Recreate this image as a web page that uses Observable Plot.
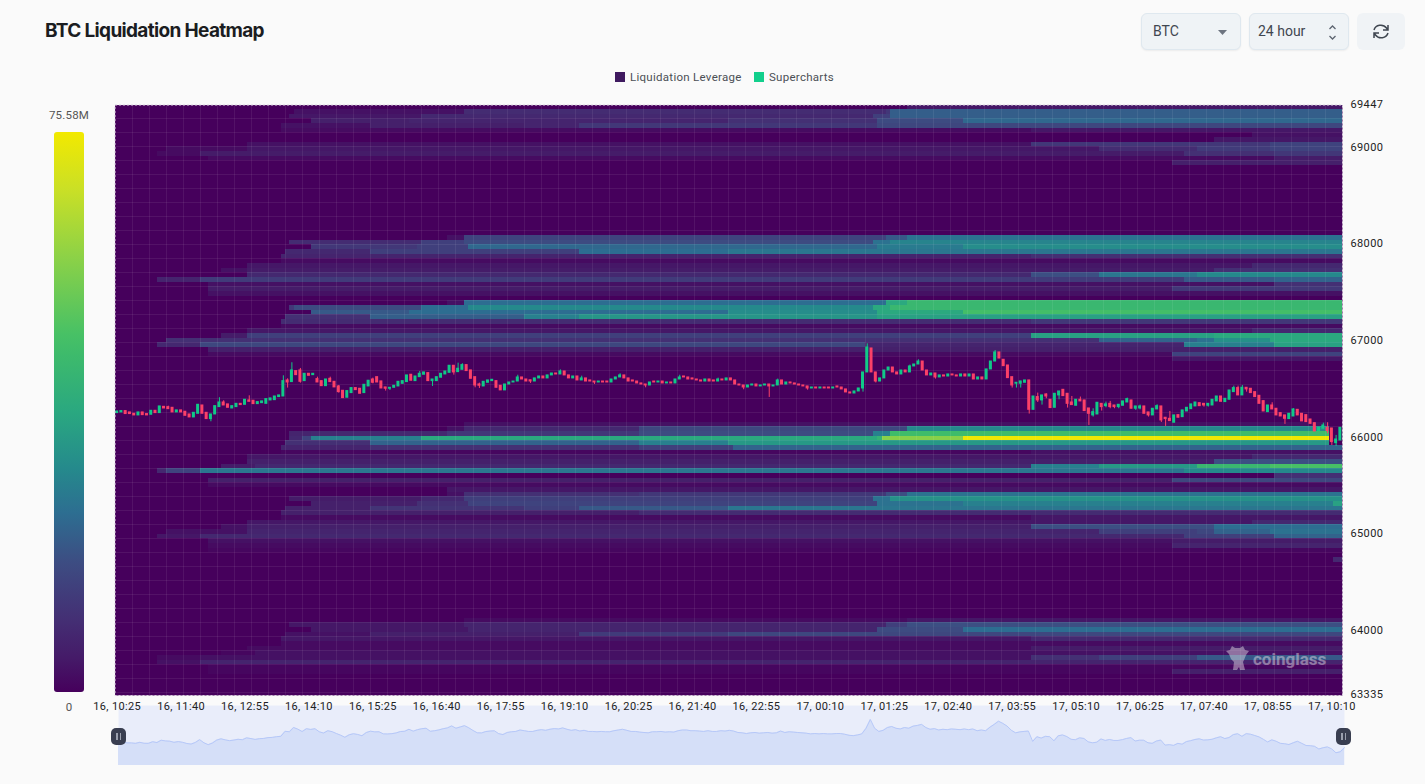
<!DOCTYPE html>
<html>
<head>
<meta charset="utf-8">
<script src="https://cdn.jsdelivr.net/npm/d3@7"></script>
<script src="https://cdn.jsdelivr.net/npm/@observablehq/plot@0.6"></script>
<style>
html,body{margin:0;padding:0;background:#fafafa;overflow:hidden;width:1425px;height:784px;font-family:Roboto,sans-serif}
#wrap{position:relative;width:1425px;height:784px;overflow:hidden}
.abs{position:absolute}
h1{position:absolute;left:45px;top:18px;margin:0;font:700 19px/26px Inter,sans-serif;letter-spacing:-.66px;color:#1b1d21}
.sel{position:absolute;top:13px;height:35px;width:98px;background:#eff3f6;border:1px solid #dfe8ef;border-radius:6px;box-shadow:0 1px 2px rgba(0,0,0,.06);font:14px/35px Roboto,sans-serif;color:#3f4650}
.sel span{position:absolute;left:11px}
.lg{position:absolute;top:71px;font:11.5px/13px Roboto,sans-serif;letter-spacing:.28px;color:#4b4f55}
.sw{position:absolute;top:72px;width:10px;height:10px}
#chart,#nav{position:absolute;left:0}
#chart{top:0;z-index:2}
#chart svg text{letter-spacing:.36px}
#nav{top:705px;z-index:1}
.h{position:absolute;top:728px;width:15px;height:17px;background:#393e50;border-radius:5px;z-index:3}
.h:before,.h:after{content:"";position:absolute;top:5px;height:7px;width:1.5px;background:#9ba0ae}
.h:before{left:5px}.h:after{left:8.5px}
</style>
</head>
<body>
<div id="wrap">
<h1>BTC Liquidation Heatmap</h1>
<div class="sel" style="left:1141px"><span>BTC</span>
<svg class="abs" style="left:75px;top:15px" width="12" height="7"><path d="M1 1h9l-4.500 5z" fill="#6d7480"/></svg></div>
<div class="sel" style="left:1249px"><span style="left:8px">24 hour</span>
<svg class="abs" style="left:77px;top:10px" width="12" height="17" fill="none" stroke="#5d6470" stroke-width="1.300"><path d="M2.500 5l3-3 3 3M2.500 12l3 3 3-3"/></svg></div>
<div class="abs" style="left:1357px;top:13px;width:48px;height:37px;background:#f0f3f6;border-radius:6px">
<svg class="abs" style="left:15px;top:10px" width="18" height="17" fill="none" stroke="#3f4650" stroke-width="1.500"><path d="M2 7a7 6.500 0 0 1 12.500-2L16 7M16 2v5h-5M16 10a7 6.500 0 0 1-12.500 2L2 10M2 15v-5h5"/></svg></div>
<div class="sw" style="left:615px;background:#3f1a5f"></div><div class="lg" style="left:630px">Liquidation Leverage</div>
<div class="sw" style="left:754px;background:#12cf8c"></div><div class="lg" style="left:769px">Supercharts</div>
<div class="abs" style="left:39px;top:108px;width:60px;text-align:center;font:11.500px/14px Roboto,sans-serif;letter-spacing:.2px;color:#555">75.58M</div>
<div class="abs" id="bar" style="left:54px;top:132px;width:30px;height:560px;border-radius:3px"></div>
<div class="abs" style="left:39px;top:700px;width:60px;text-align:center;font:11.500px/14px Roboto,sans-serif;color:#555">0</div>
<div id="nav"></div>
<div id="chart"></div>
<div class="h" style="left:111px"></div><div class="h" style="left:1336px"></div>
<div class="abs" style="left:1225px;top:645px;z-index:4;opacity:.45;width:102px;height:28px">
<svg class="abs" style="left:0;top:0" width="28" height="28" fill="#e9e4ea"><path d="M1 6l4-1 2-4 3 2h5l3-2 2 4 4 1-3 4-2 5-1 2 2 8h-5l-1-3-2 3H8l1-8-3-3-2-5z"/></svg>
<div class="abs" style="left:28px;top:3px;font:700 17px/22px Roboto,sans-serif;color:#e9e4ea">coinglass</div>
</div>
</div>
<script>
// ---- axis labels ----
const xTickLabels = ["16, 10:25","16, 11:40","16, 12:55","16, 14:10","16, 15:25","16, 16:40","16, 17:55","16, 19:10","16, 20:25","16, 21:40","16, 22:55","17, 00:10","17, 01:25","17, 02:40","17, 03:55","17, 05:10","17, 06:25","17, 07:40","17, 08:55","17, 10:10"];
const yTicks = [69447,69000,68000,67000,66000,65000,64000,63335];
const priceTop = 69447, priceBottom = 63335, rowStep = 48.3, columnCount = 288, valueMax = 75.58;

// ---- colour ramp ----
const rampStops  = [0,.06,.13,.23,.32,.4,.5,.6,.64,.78,.9,1];
const rampColors = ["#46005c","#451a68","#442f74","#3d4c82","#2d6e91","#258a8c","#2aa880","#3dba6c","#48c165","#8ed246","#cbe025","#f2e900"];

// ---- heatmap: row number from the top, then [start column, value in millions] steps ----
const heatRows = [0,1,2,3,4,5,6,7,8,9,10,11,12,28,29,30,31,32,33,34,35,36,37,38,39,40,42,43,44,45,46,47,48,49,50,51,52,53,54,68,69,70,71,72,73,74,75,76,77,78,79,80,81,82,83,84,85,86,87,88,89,90,91,92,93,94,95,97,110,111,112,113,114,115,116,117,118,119,120,121];
const heatSteps = [
[[186,4]],
[[42,3],[82,9],[181,12],[182,21]],
[[41,4],[72,8],[178,14],[182,21]],
[[46,6],[69,7],[144,10],[179,17],[199,23]],
[[39,3],[60,6],[96,7],[109,12],[179,16]],
[[39,2],[215,4]],
[[267,3]],
[[258,4]],
[[31,3],[215,12],[271,15]],
[[12,2],[31,4],[231,9],[254,13],[271,15]],
[[10,2],[20,5],[251,10],[272,12]],
[[22,2],[272,5]],
[[248,6]],
[[78,3],[82,15],[181,20],[186,25]],
[[41,9],[72,14],[82,17],[178,25],[182,29]],
[[46,12],[71,14],[83,23],[179,27],[199,31]],
[[40,8],[60,14],[109,24],[144,26]],
[[39,7],[215,10]],
[[39,2]],
[[31,4],[267,8]],
[[25,3],[31,5],[258,10]],
[[31,8],[215,18],[231,26],[254,30]],
[[10,7],[20,13],[251,20],[272,22]],
[[22,3],[272,10]],
[[22,5],[248,12]],
[[22,3]],
[[78,3],[82,24],[181,38],[186,44]],
[[41,12],[42,17],[72,24],[83,30],[178,38],[182,44]],
[[46,20],[69,24],[144,31],[179,38],[199,47]],
[[40,10],[60,21],[96,28],[109,33],[179,36]],
[[39,9],[215,12]],
[[39,2]],
[[31,4],[267,8]],
[[25,5],[31,14],[215,36],[258,38]],
[[12,10],[231,22],[254,25],[258,32],[271,38]],
[[10,8],[20,16],[176,7],[251,28],[272,36]],
[[22,6]],
[[22,2],[248,15]],
[[248,4]],
[[82,3],[285,0]],
[[78,3],[82,8],[123,16],[186,30],[285,0]],
[[41,7],[46,8],[78,12],[123,17],[178,28],[182,46],[285,0]],
[[41,8],[44,15],[46,28],[72,38],[179,42],[180,58],[199,75],[285,0]],
[[40,10],[60,22],[123,28],[144,34],[285,0]],
[[39,7],[60,10],[123,14],[145,22]],
[[39,1],[215,3]],
[[31,4],[267,8]],
[[31,6],[258,18]],
[[25,5],[33,8],[215,28],[231,34],[254,44],[271,48]],
[[10,8],[12,15],[20,26],[251,30]],
[[272,10]],
[[22,6],[248,16]],
[[22,2]],
[[78,4]],
[[78,3],[82,10],[123,12],[181,18],[186,25]],
[[41,5],[72,8],[82,14],[178,25],[182,32]],
[[46,6],[71,10],[83,15],[179,25],[199,28],[286,36]],
[[40,6],[60,11],[96,14],[109,20],[144,26]],
[[39,6],[123,9]],
[[39,2],[215,4]],
[[31,4],[267,8]],
[[25,3],[31,6],[215,18],[258,24]],
[[12,3],[31,7],[231,14],[254,16],[258,22],[271,25]],
[[10,4],[20,8],[251,14],[272,22]],
[[22,3],[248,5]],
[[22,2],[248,7]],
[[22,1]],
[[286,8]],
[[82,2],[186,4]],
[[41,4],[82,7],[181,14],[186,18]],
[[46,4],[83,7],[179,17],[199,24]],
[[40,3],[60,6],[109,13],[144,16]],
[[39,4],[215,8]],
[[39,2]],
[[31,2],[215,5]],
[[25,1],[33,3]],
[[10,2],[20,3],[215,10],[231,14],[254,20]],
[[10,3],[20,7]],
[[22,1]],
[[22,1],[248,6]]
];

// ---- candles (5-minute) ----
const candleOpen = [66258,66265,66279,66265,66251,66234,66265,66248,66241,66282,66258,66323,66320,66313,66265,66286,66272,66244,66213,66251,66337,66261,66196,66244,66320,66368,66348,66306,66320,66354,66344,66389,66386,66351,66361,66354,66389,66392,66424,66430,66596,66579,66693,66700,66589,66665,66651,66610,66589,66537,66613,66582,66534,66489,66417,66465,66517,66510,66465,66534,66606,66630,66586,66524,66510,66520,66534,66561,66579,66655,66589,66630,66655,66672,66589,66589,66624,66658,66675,66748,66682,66706,66755,66700,66630,66555,66534,66572,66589,66589,66541,
66493,66554,66575,66585,66627,66606,66598,66585,66617,66637,66617,66648,66668,66658,66689,66648,66617,66637,66596,66617,66596,66585,66575,66585,66585,66575,66606,66627,66648,66617,66596,66585,66565,66554,66544,66585,66575,66585,66565,66575,66565,66606,66637,66627,66617,66606,66596,66585,66606,66596,66585,66606,66596,66617,66596,66554,66544,66523,66544,66554,66534,66544,66554,66534,66544,66596,66554,66575,66565,66554,66544,66534,66513,66523,66513,66523,66523,66513,66534,66523,66503,66472,66461,66482,66513,66679,66927,66679,66585,66617,66699,66730,66679,66658,66699,66679,66741,66761,66792,66699,66648,66668,66627,66648,66637,66658,66648,66637,66658,66637,66658,66606,66627,66606,66710,66792,66886,
66810,66751,66630,66562,66562,66572,66596,66292,66424,66389,66451,66396,66313,66441,66499,66458,66368,66334,66396,66389,66306,66234,66244,66354,66330,66354,66337,66320,66334,66368,66389,66303,66306,66327,66265,66234,66296,66327,66210,66199,66158,66237,66216,66275,66299,66327,66361,66354,66334,66337,66379,66430,66372,66396,66475,66517,66441,66520,66510,66475,66437,66382,66268,66337,66303,66258,66234,66196,66223,66292,66251,66237,66192,66154,66072,66096,66106,66099,65947,65975];
const candleClose = [66275,66279,66248,66248,66234,66265,66237,66234,66282,66258,66327,66306,66299,66265,66286,66265,66230,66213,66261,66344,66251,66196,66244,66330,66368,66337,66313,66330,66354,66341,66396,66375,66351,66372,66379,66403,66410,66430,66441,66589,66575,66700,66651,66582,66665,66644,66665,66575,66537,66606,66579,66524,66475,66413,66486,66517,66496,66458,66551,66593,66572,66575,66513,66510,66520,66541,66582,66589,66648,66593,66637,66665,66679,66589,66606,66630,66665,66689,66748,66679,66717,66755,66693,66613,66544,66541,66582,66596,66603,66520,66493,
66554,66575,66585,66627,66606,66585,66585,66617,66637,66617,66648,66668,66658,66689,66648,66617,66637,66596,66617,66585,66585,66575,66585,66575,66575,66606,66627,66648,66617,66585,66585,66565,66554,66544,66575,66575,66585,66565,66575,66565,66606,66627,66627,66606,66606,66596,66585,66606,66585,66585,66606,66596,66617,66596,66554,66544,66523,66544,66554,66534,66544,66554,66534,66544,66596,66554,66575,66565,66554,66544,66534,66513,66523,66513,66523,66513,66513,66523,66523,66503,66472,66461,66482,66513,66679,66937,66679,66585,66617,66699,66730,66679,66658,66699,66679,66741,66761,66792,66699,66648,66668,66627,66648,66637,66658,66648,66637,66658,66637,66658,66606,66627,66606,66710,66792,66886,66823,
66744,66620,66544,66572,66586,66596,66292,66430,66389,66441,66430,66310,66458,66482,66434,66354,66341,66396,66379,66279,66251,66268,66365,66320,66348,66320,66320,66344,66379,66403,66303,66327,66327,66251,66234,66303,66330,66182,66196,66175,66234,66210,66286,66313,66348,66368,66330,66337,66354,66396,66430,66375,66406,66492,66517,66441,66520,66503,66465,66424,66354,66275,66337,66296,66234,66223,66199,66251,66296,66234,66172,66165,66147,66068,66106,66130,66072,65958,65985,66106];
// wick ends that stick out of the body, by candle number
const wickHighAt = {12:66330,24:66417,25:66386,31:66437,39:66644,40:66613,41:66779,43:66720,47:66630,50:66630,52:66544,60:66620,71:66689,80:66775,81:66769,85:66568,94:66650,104:66705,109:66640,118:66665,132:66650,141:66620,155:66610,176:66975,186:66755,188:66810,206:66906,216:66465,218:66458,224:66430,226:66424,229:66303,232:66372,233:66379,237:66413,240:66341,244:66344,247:66275,262:66537,263:66537,264:66544,271:66365,276:66303,283:66154,284:66158,286:66027};
const wickLowAt = {22:66168,40:66517,43:66568,52:66465,60:66561,63:66486,64:66492,74:66534,79:66651,84:66520,85:66513,97:66565,112:66555,124:66520,147:66500,153:66420,162:66495,175:66475,178:66570,192:66610,210:66517,211:66517,212:66517,214:66248,216:66368,217:66341,218:66406,221:66396,223:66310,228:66130,229:66217,231:66279,232:66313,233:66303,234:66303,235:66303,239:66286,240:66292,242:66217,245:66161,246:66120,255:66320,256:66320,265:66475,274:66141,284:66044,285:65923,286:65913};

// ---- build tables ----
const heat = [];
heatRows.forEach((row, r) => {
  const steps = heatSteps[r];
  steps.forEach(([col, value], s) => {
    const end = s + 1 < steps.length ? steps[s + 1][0] : columnCount;
    heat.push({c1: col - 0.5, c2: end - 0.5, p1: priceTop - row * rowStep, p2: priceTop - (row + 1) * rowStep, value});
  });
});
const candles = candleOpen.map((open, i) => {
  const close = candleClose[i];
  return {i, open, close,
    high: wickHighAt[i] ?? Math.max(open, close),
    low: wickLowAt[i] ?? Math.min(open, close)};
});
const up = candles.filter(d => d.close >= d.open);
const down = candles.filter(d => d.close < d.open);
const GREEN = "#10c988", RED = "#fb4068";

const colorDomain = rampStops.map(t => t * valueMax);
const gridColumns = d3.range(0, 288, 4).map(c => c - 0.5);
const gridPrices = d3.range(0, 43).map(k => priceTop - k * 3 * rowStep);
const tickColumns = xTickLabels.map((_, k) => k * 15);

document.getElementById("bar").style.background =
  "linear-gradient(to top," + rampColors.map((c, k) => c + " " + rampStops[k] * 100 + "%").join(",") + ")";

const chart = Plot.plot({
  width: 1425, height: 784,
  marginLeft: 114.5, marginRight: 83, marginTop: 104.5, marginBottom: 89,
  style: {background: "transparent", fontFamily: "Roboto,sans-serif", fontSize: "11px", color: "#222"},
  x: {domain: [-0.5, columnCount - 0.5], axis: null},
  y: {domain: [priceBottom, priceTop], axis: null},
  color: {type: "linear", domain: colorDomain, range: rampColors},
  marks: [
    Plot.frame({fill: rampColors[0], stroke: null}),
    Plot.rect(heat, {x1: "c1", x2: "c2", y1: "p1", y2: "p2", fill: "value", shapeRendering: "crispEdges"}),
    Plot.ruleX(gridColumns, {stroke: "#fff", strokeOpacity: 0.07, strokeWidth: 1, shapeRendering: "crispEdges"}),
    Plot.ruleY(gridPrices, {stroke: "#fff", strokeOpacity: 0.07, strokeWidth: 1, shapeRendering: "crispEdges"}),
    Plot.ruleX(up, {x: "i", y1: "low", y2: "high", stroke: GREEN, strokeWidth: 1}),
    Plot.ruleX(down, {x: "i", y1: "low", y2: "high", stroke: RED, strokeWidth: 1}),
    Plot.rect(up, {x1: d => d.i - 0.35, x2: d => d.i + 0.35, y1: "open", y2: "close", fill: GREEN, insetTop: -0.5, insetBottom: -0.5}),
    Plot.rect(down, {x1: d => d.i - 0.35, x2: d => d.i + 0.35, y1: "open", y2: "close", fill: RED, insetTop: -0.5, insetBottom: -0.5}),
    Plot.frame({stroke: "#d9d0de", strokeDasharray: "2,2", strokeWidth: 1}),
    Plot.axisX({ticks: tickColumns, tickSize: 0, tickPadding: 7, anchor: "bottom", label: null,
      tickFormat: c => xTickLabels[c / 15], fill: "#222"}),
    Plot.axisY({ticks: yTicks, tickSize: 0, tickPadding: 8, anchor: "right", label: null, dy: -1,
      tickFormat: d => String(d), fill: "#222"})
  ]
});
document.getElementById("chart").appendChild(chart);

const navPrices = candleClose;
const nav = Plot.plot({
  width: 1425, height: 60,
  marginLeft: 118, marginRight: 81, marginTop: 0, marginBottom: 0,
  style: {background: "transparent"},
  x: {domain: [0, columnCount - 1], axis: null},
  y: {domain: [65583, 67348], axis: null},
  marks: [
    Plot.frame({fill: "#e9edfa", stroke: null}),
    Plot.areaY(navPrices, {x: (d, i) => i, y1: 65583, y2: d => d, fill: "#d5dff8"}),
    Plot.lineY(navPrices, {x: (d, i) => i, y: d => d, stroke: "#b6c8f8", strokeWidth: 1})
  ]
});
document.getElementById("nav").appendChild(nav);
</script>
</body>
</html>
